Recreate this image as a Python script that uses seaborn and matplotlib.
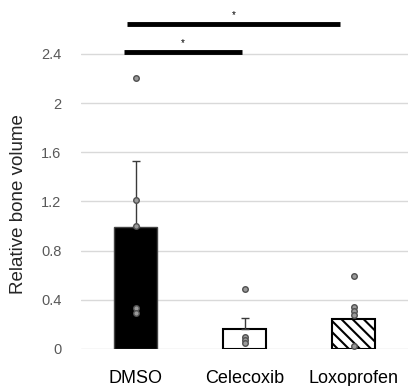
import numpy as np
import pandas as pd
import matplotlib
matplotlib.use('Agg')
import matplotlib.pyplot as plt
import seaborn as sns

groups = ['DMSO', 'Celecoxib', 'Loxoprofen']
means = [0.995, 0.163, 0.24]
err_up = [0.535, 0.092, 0.0]

dmso_pts = [2.2, 1.21, 1.0, 0.33, 0.29]
cele_pts = [0.49, 0.10, 0.07, 0.05]
loxo_pts = [0.596, 0.34, 0.31, 0.28, 0.02]

tick_vals = [0, 0.4, 0.8, 1.2, 1.6, 2.0, 2.4]
tick_labels = ['0', '0.4', '0.8', '1.2', '1.6', '2', '2.4']

# significance bars: (x start, x end, y)
sig_bars = [(-0.105, 0.977, 2.415), (-0.078, 1.876, 2.645)]

sns.set_style('white')
plt.rcParams['font.family'] = ['Liberation Sans', 'DejaVu Sans']
plt.rcParams['hatch.linewidth'] = 1.5

fig = plt.figure(figsize=(4.09, 3.86), dpi=100)
ax = fig.add_axes([0.198, 0.096, 0.8, 0.892])

df_bar = pd.DataFrame({'group': groups, 'mean': means})
sns.barplot(data=df_bar, x='group', y='mean', order=groups, width=0.4,
            color='white', edgecolor='black', linewidth=1.5, ax=ax, zorder=2)

patches = ax.patches
patches[0].set_facecolor('black')
patches[0].set_edgecolor('#444444')
patches[0].set_linewidth(1)
patches[2].set_facecolor('white')
patches[2].set_hatch('\\' * 3)
patches[2].set_edgecolor('black')

# error bars (upper only)
for i in range(2):
    ax.errorbar(i, means[i], yerr=[[0], [err_up[i]]], fmt='none',
                ecolor='#3a3a3a', elinewidth=1, capsize=3, capthick=1, zorder=3)

pts = pd.DataFrame({
    'group': ['DMSO'] * len(dmso_pts) + ['Celecoxib'] * len(cele_pts) + ['Loxoprofen'] * len(loxo_pts),
    'value': dmso_pts + cele_pts + loxo_pts,
})
sns.stripplot(data=pts, x='group', y='value', order=groups, jitter=False,
              color='#9a9a9a', edgecolor='#505050', linewidth=1, size=4,
              ax=ax, zorder=4, clip_on=False)

for x0, x1, y in sig_bars:
    ax.plot([x0, x1], [y, y], color='black', linewidth=3.5, solid_capstyle='butt', clip_on=False)
    ax.text((x0 + x1) / 2, y + 0.03, '*', ha='center', va='bottom', fontsize=7, color='black')

ax.set_ylim(0, 2.8)
ax.set_xlim(-0.5, 2.5)
ax.set_yticks(tick_vals)
ax.set_yticklabels(tick_labels)
ax.yaxis.grid(True, color='#d9d9d9', linewidth=1)
ax.set_axisbelow(True)
for s in ax.spines.values():
    s.set_visible(False)
ax.tick_params(axis='y', length=0, pad=14, labelsize=10.5, labelcolor='#595959')
ax.tick_params(axis='x', length=0, pad=15, labelsize=13, labelcolor='black')
ax.set_xlabel('')
ax.set_ylabel('Relative bone volume', fontsize=13.5)
ax.yaxis.set_label_coords(-0.165, 0.42)

fig.savefig('out.png', dpi=100)
